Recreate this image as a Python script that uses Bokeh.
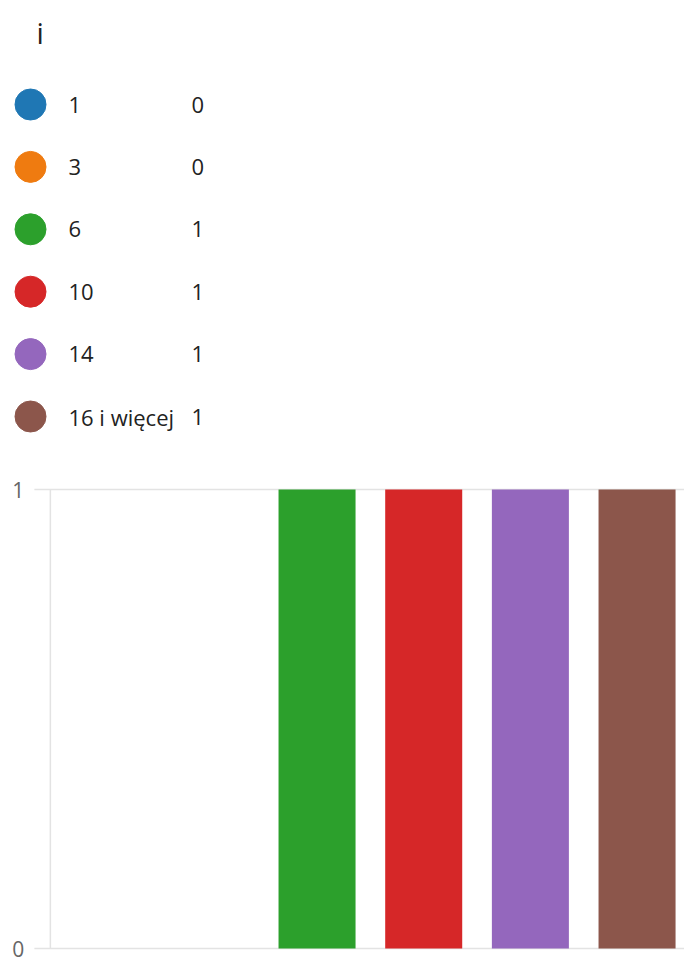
from bokeh.plotting import figure
from bokeh.models import Range1d, ColumnDataSource
from bokeh.core.properties import value
from bokeh.embed import file_html
from bokeh.resources import INLINE

title = "i"
categories = ["1", "3", "6", "10", "14", "16 i więcej"]
counts = [0, 0, 1, 1, 1, 1]
colors = ["#1f77b4", "#ef7b10", "#2ca02c", "#d62728", "#9467bd", "#8c564b"]
y_ticks = [0, 1]

FONT = "Open Sans"
GRID = "#e3e3e3"
idx = list(range(len(categories)))

src = ColumnDataSource(dict(row=idx, label=categories, count=counts,
                            count_txt=[str(c) for c in counts], color=colors))

W, H = 684, 966
# bar scale: category slot = 106.67px, first slot centre at 103.2px; count 0 at 948px, 1 at 489px
slot, x0px = 106.67, 103.2
unit, y0px = 459.0, 948.0
p = figure(width=W, height=H,
           x_range=Range1d(-x0px / slot, (W - x0px) / slot),
           y_range=Range1d(-(H - y0px) / unit, y0px / unit),
           output_backend="svg", toolbar_location=None, min_border=0,
           x_axis_location=None, y_axis_location=None, outline_line_color=None)
p.xgrid.visible = False
p.ygrid.visible = False

# legend block ranges (x in px, y in row index)
row0, rowstep = 104.0, 62.4
p.extra_x_ranges = {"px": Range1d(0, W)}
p.extra_y_ranges = {"rows": Range1d((H - row0) / rowstep, -row0 / rowstep)}

# ---- y axis drawn from the tick list ----
axis_x = -0.5
tick_len = 16 / slot
xmax = (W - x0px) / slot
p.segment(x0=[axis_x - tick_len] * len(y_ticks), y0=y_ticks, x1=[xmax] * len(y_ticks), y1=y_ticks,
          line_color=GRID, line_width=1.5)
p.segment(x0=[axis_x], y0=[min(y_ticks)], x1=[axis_x], y1=[max(y_ticks)],
          line_color=GRID, line_width=1.5)
p.text(x=[axis_x - 26 / slot] * len(y_ticks), y=y_ticks, text=[str(t) for t in y_ticks],
       text_font=value(FONT), text_font_size="21px", text_color="#666666",
       text_align="right", text_baseline="middle")

# ---- bars ----
p.vbar(x="row", top="count", width=0.722, fill_color="color", line_color=None, source=src)

# ---- legend / summary block ----
p.scatter(x=30, y="row", size=31, color="color", line_color="color", source=src,
          x_range_name="px", y_range_name="rows")
p.text(x=68, y="row", text="label", source=src, text_font=value(FONT),
       text_font_size="22px", text_baseline="middle", text_color="#222222",
       x_range_name="px", y_range_name="rows")
p.text(x=191, y="row", text="count_txt", source=src, text_font=value(FONT),
       text_font_size="22px", text_baseline="middle", text_color="#222222",
       x_range_name="px", y_range_name="rows")
p.text(x=[36], y=[(32 - row0) / rowstep], text=[title], text_font=value(FONT),
       text_font_size="29px", text_baseline="middle", text_color="#222222",
       x_range_name="px", y_range_name="rows")

open("out.html", "w").write(file_html(p, INLINE))
